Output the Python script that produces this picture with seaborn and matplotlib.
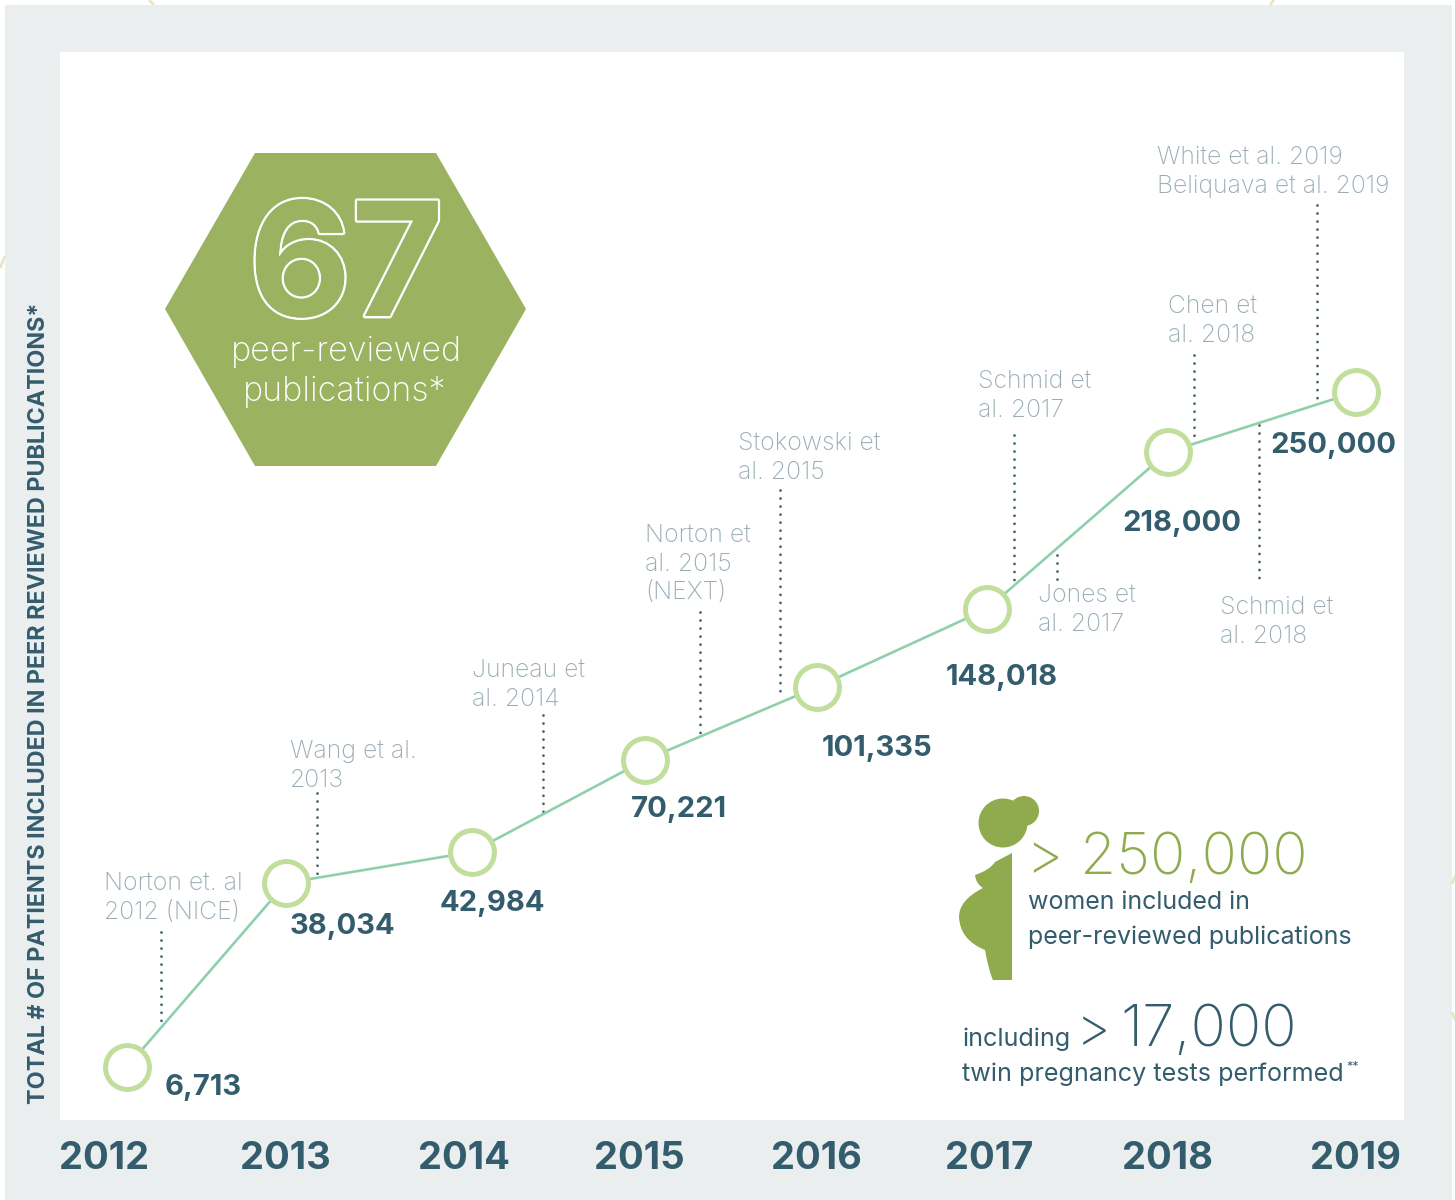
import numpy as np
import pandas as pd
import seaborn as sns
import matplotlib.pyplot as plt
import matplotlib.patheffects as pe
from matplotlib.patches import Circle, PathPatch, Polygon, Rectangle
from matplotlib.path import Path

years = [2012, 2013, 2014, 2015, 2016, 2017, 2018, 2019]
patients = [6713, 38034, 42984, 70221, 101335, 148018, 218000, 250000]
patient_labels = ["6,713", "38,034", "42,984", "70,221", "101,335", "148,018", "218,000", "250,000"]

studies = [
    ["Norton et. al", "2012 (NICE)"],
    ["Wang et al.", "2013"],
    ["Juneau et", "al. 2014"],
    ["Norton et", "al. 2015", "(NEXT)"],
    ["Stokowski et", "al. 2015"],
    ["Schmid et", "al. 2017"],
    ["Jones et", "al. 2017"],
    ["Chen et", "al. 2018"],
    ["Schmid et", "al. 2018"],
    ["White et al. 2019", "Beliquava et al. 2019"],
]

DARK = "#335c6d"
PALE = "#9aadb5"
PANEL = "#eaeeef"
FONT = "Inter"

# the chart is not drawn to scale, so both axes are bent to the picture
year_knots = [2011.0, 2012, 2013, 2014, 2015, 2016, 2017, 2018, 2019, 2020]
year_px = [60, 127, 286, 472, 645, 817, 987, 1168, 1356, 1404]
count_knots = [0, 6713, 38034, 42984, 70221, 101335, 148018, 218000, 250000, 400000]
count_px = [-1120, -1067, -883, -852, -760, -687, -609, -452, -392, -52]


def x_fwd(v):
    return np.interp(v, year_knots, year_px)


def x_inv(v):
    return np.interp(v, year_px, year_knots)


def y_fwd(v):
    return np.interp(v, count_knots, count_px)


def y_inv(v):
    return np.interp(v, count_px, count_knots)


sns.set_theme(style="white")
plt.rcParams["font.family"] = [FONT, "DejaVu Sans"]

fig = plt.figure(figsize=(14.55, 12), dpi=100, facecolor="white")

# page layer in pixels
bg = fig.add_axes([0, 0, 1, 1])
bg.set_xlim(0, 1455)
bg.set_ylim(1200, 0)
bg.axis("off")
bg.add_patch(Rectangle((5, 5), 1447, 1195, color=PANEL, lw=0))
bg.add_patch(Rectangle((60, 52), 1344, 1068, color="white", lw=0))

# bits of the page pattern that stick out behind the panel
for xs, ys in [((149, 154), (0, 5)), ((1274, 1270), (0, 5)), ((0, 5), (268, 256)),
               ((1452, 1455), (884, 876)), ((1452, 1455), (1012, 1020))]:
    bg.plot(xs, ys, color="#e4e8c8", lw=2, solid_capstyle="butt")

ax = fig.add_axes([60 / 1455, 80 / 1200, 1344 / 1455, 1068 / 1200], facecolor="none")
ax.set_xscale("function", functions=(x_fwd, x_inv))
ax.set_yscale("function", functions=(y_fwd, y_inv))

df = pd.DataFrame({"year": years, "patients": patients})
sns.lineplot(df, x="year", y="patients", color="#8fd0ac", lw=1.9, ax=ax, zorder=2)
sns.scatterplot(df, x="year", y="patients", s=1000, color="white", edgecolor="#c2de9c",
                linewidth=3.6, ax=ax, zorder=4, clip_on=False)
ax.set_xlim(2011, 2020)
ax.set_ylim(0, 400000)
ax.axis("off")

# hexagon badge
bg.add_patch(Polygon([(255, 153), (436, 153), (526, 309), (436, 466), (255, 466), (165, 309)],
                     color="#9bb360", lw=0))
bg.text(346, 316, "67", color="#9bb360", fontsize=114, fontweight="bold", ha="center", va="baseline",
        path_effects=[pe.withStroke(linewidth=3.5, foreground="white"), pe.Normal()])
bg.text(346, 361, "peer-reviewed", color="white", fontsize=24.5, fontweight="light", ha="center", va="baseline")
bg.text(345, 401, "publications*", color="white", fontsize=24.5, fontweight="light", ha="center", va="baseline")

# dotted leaders
leaders = [(161, 932, 1028), (317, 793, 878), (543, 715, 815), (700, 612, 733), (780, 490, 695),
           (1014, 435, 585), (1057, 555, 585), (1194, 355, 440), (1259, 425, 583), (1317, 205, 400)]
for x, y0, y1 in leaders:
    bg.plot([x, x], [y0, y1], color="#3f5f6e", lw=2, ls=(0, (0.01, 2.88)), dash_capstyle="round", zorder=1)

study_pos = [(104, 890), (290, 758), (472, 677), (645, 542), (738, 450), (978, 388), (1038, 602),
             (1168, 313), (1220, 614), (1157, 164)]
for lines, (x, y) in zip(studies, study_pos):
    for i, line in enumerate(lines):
        bg.text(x, y + i * 28.7, line, color=PALE, fontsize=17.8, fontweight="light", va="baseline")

# values next to the rings
label_pos = [(165, 1095), (290, 934), (440, 911), (631, 817), (822, 756), (946, 685), (1122, 531), (1270, 453)]
for label, (x, y) in zip(patient_labels, label_pos):
    bg.text(x, y, label, color=DARK, fontsize=21, fontweight="bold", va="baseline")

# year row
year_x = [104, 285, 464, 639, 816, 989, 1167, 1355]
for yr, x in zip(years, year_x):
    bg.text(x, 1159, str(yr), color=DARK, fontsize=27.5, fontweight="bold", ha="center", va="center")

bg.text(39, 1104, "TOTAL # OF PATIENTS INCLUDED IN PEER REVIEWED PUBLICATIONS*", color=DARK, fontsize=16.8,
        fontweight="bold", rotation=90, ha="center", va="bottom")

# silhouette
GREEN = "#8fab4d"
bg.add_patch(Circle((1003, 823), 24.5, color=GREEN, lw=0))
bg.add_patch(Circle((1024, 811), 15, color=GREEN, lw=0))
body = [(1012, 853), (1012, 980), (993, 980), (989, 972), (985, 950), (960, 940), (959, 917), (959, 900),
        (983, 888), (976, 884), (975, 875), (990, 870), (995, 862), (1012, 853)]
codes = [Path.MOVETO, Path.LINETO, Path.LINETO, Path.CURVE3, Path.CURVE3, Path.CURVE3, Path.CURVE3,
         Path.CURVE3, Path.CURVE3, Path.CURVE3, Path.CURVE3, Path.CURVE3, Path.CURVE3, Path.LINETO]
bg.add_patch(PathPatch(Path(body, codes), color=GREEN, lw=0))

bg.text(1026, 874, "> 250,000", color=GREEN, fontsize=42, fontweight="light", va="baseline")
bg.text(1028, 909, "women included in", color=DARK, fontsize=18, va="baseline")
bg.text(1028, 944, "peer-reviewed publications", color=DARK, fontsize=18, va="baseline")
bg.text(962, 1046, "including", color=DARK, fontsize=18.1, va="baseline")
bg.text(1076, 1046, ">", color=DARK, fontsize=39, fontweight="light", va="baseline")
bg.text(1120, 1046, "17,000", color=DARK, fontsize=42, fontweight="light", va="baseline")
bg.text(962, 1081, "twin pregnancy tests performed", color=DARK, fontsize=18.1, va="baseline")
bg.text(1346, 1070, "**", color=DARK, fontsize=9, va="baseline")

fig.savefig("out.png", dpi=100)
